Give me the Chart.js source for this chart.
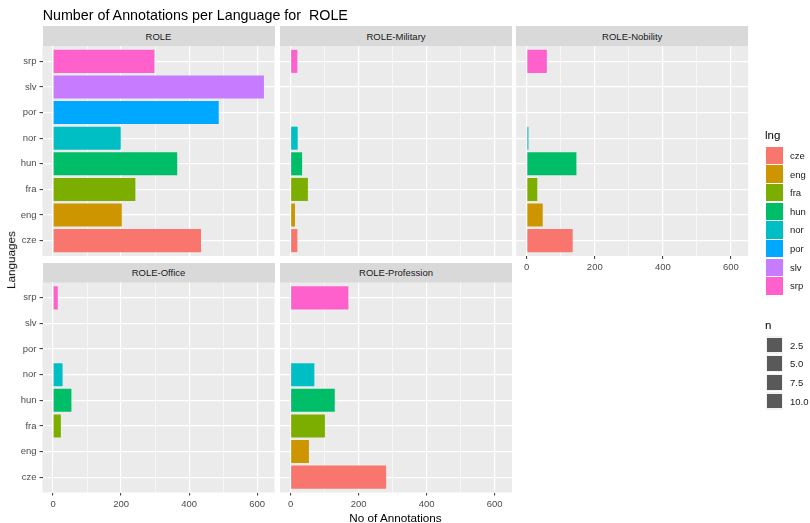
<!DOCTYPE html>
<html>
<head>
<meta charset="utf-8">
<title>Number of Annotations per Language for ROLE</title>
<script src="https://cdn.jsdelivr.net/npm/chart.js@4.4.1/dist/chart.umd.min.js"></script>
<style>
  html, body { margin: 0; padding: 0; background: #ffffff; }
  #stage { position: relative; width: 810px; height: 523px; overflow: hidden;
           font-family: "Liberation Sans", Arial, sans-serif; }
  #stage canvas { position: absolute; left: 0; top: 0; }
  .txt { position: absolute; white-space: nowrap; line-height: 1; color: #000; }
  .strip { position: absolute; background: #D9D9D9; color: #1A1A1A; font-size: 9.5px;
           display: flex; align-items: center; justify-content: center; }
  .key { position: absolute; }
  .keylab { position: absolute; font-size: 9.5px; color: #1A1A1A; height: 17px;
            display: flex; align-items: center; white-space: nowrap; }
</style>
</head>
<body>
<div id="stage"></div>
<script>
// ---- data -------------------------------------------------------------
const languages = ['cze', 'eng', 'fra', 'hun', 'nor', 'por', 'slv', 'srp'];
const langColors = ['#F8766D', '#CD9600', '#7CAE00', '#00BE67', '#00BFC4', '#00A9FF', '#C77CFF', '#FF61CC'];

const facetNames = ['ROLE', 'ROLE-Military', 'ROLE-Nobility', 'ROLE-Office', 'ROLE-Profession'];

// annotation counts per language (order of `languages`); null = no annotations
const roleCounts       = [435, 202, 242, 365, 199, 487, 620, 298];
const militaryCounts   = [20, 13, 51, 34, 21, null, null, 20];
const nobilityCounts   = [135, 47, 31, 146, 5, null, null, 59];
const officeCounts     = [2, null, 23, 54, 28, null, null, 14];
const professionCounts = [281, 54, 101, 130, 70, null, null, 170];

const xTickLabels = [0, 200, 400, 600];   // labelled (major) breaks
const xMinorBreaks = [100, 300, 500];     // unlabelled minor grid lines
const sizeLegendValues = ['2.5', '5.0', '7.5', '10.0'];

// ---- layout -----------------------------------------------------------
const W = 810, H = 523;
const FONT = '"Liberation Sans", Arial, sans-serif';
const xMin = -31, xMax = 651;            // shared x limits (fixed scales)
const yMin = 0.4, yMax = 8.6;            // discrete axis with 0.6 expansion
const colLeft = [42.5, 280, 516.2];
const panelWidth = 232;
const rows = [
  { stripTop: 26,    top: 46,    bottom: 256 },
  { stripTop: 262.5, top: 282.5, bottom: 492.5 }
];

const panels = [
  { name: facetNames[0], counts: roleCounts,       col: 0, row: 0, showX: false },
  { name: facetNames[1], counts: militaryCounts,   col: 1, row: 0, showX: false },
  { name: facetNames[2], counts: nobilityCounts,   col: 2, row: 0, showX: true  },
  { name: facetNames[3], counts: officeCounts,     col: 0, row: 1, showX: true  },
  { name: facetNames[4], counts: professionCounts, col: 1, row: 1, showX: true  }
];

const stage = document.getElementById('stage');

// grey panel background behind the grid
const panelBackground = {
  id: 'panelBackground',
  beforeDraw(chart) {
    const a = chart.chartArea, ctx = chart.ctx;
    ctx.save();
    ctx.fillStyle = '#EBEBEB';
    ctx.fillRect(a.left, a.top, a.right - a.left, a.bottom - a.top);
    ctx.restore();
  }
};

function addText(text, left, top, size, extra) {
  const d = document.createElement('div');
  d.className = 'txt';
  d.textContent = text;
  d.style.left = left + 'px';
  d.style.top = top + 'px';
  d.style.fontSize = size + 'px';
  if (extra) Object.assign(d.style, extra);
  stage.appendChild(d);
  return d;
}

function zeroPadding(s) {
  s.paddingLeft = 0; s.paddingRight = 0; s.paddingTop = 0; s.paddingBottom = 0;
}

function makePanel(p) {
  const L = colLeft[p.col], R = L + panelWidth;
  const T = rows[p.row].top, B = rows[p.row].bottom;
  const showY = p.col === 0;
  const yW = showY ? L : 0;
  const xH = p.showX ? 26 : 0;

  // facet strip
  const s = document.createElement('div');
  s.className = 'strip';
  s.textContent = p.name;
  s.style.left = L + 'px';
  s.style.top = rows[p.row].stripTop + 'px';
  s.style.width = panelWidth + 'px';
  s.style.height = (T - rows[p.row].stripTop) + 'px';
  stage.appendChild(s);

  const canvas = document.createElement('canvas');
  canvas.width = W; canvas.height = H;
  stage.appendChild(canvas);

  const points = [];
  p.counts.forEach((v, i) => { if (v !== null) points.push({ x: v, y: i + 1 }); });

  const isMajor = c => c.tick && xTickLabels.includes(c.tick.value);

  new Chart(canvas, {
    type: 'bar',
    data: {
      datasets: [{
        data: points,
        backgroundColor: points.map(pt => langColors[pt.y - 1]),
        borderWidth: 0,
        barPercentage: 0.9,
        categoryPercentage: 1.0
      }]
    },
    options: {
      responsive: false,
      animation: false,
      devicePixelRatio: 1,
      indexAxis: 'y',
      layout: { padding: { left: L - yW, right: W - R, top: T, bottom: H - B - xH } },
      plugins: { legend: { display: false }, tooltip: { enabled: false }, title: { display: false } },
      scales: {
        x: {
          type: 'linear', position: 'bottom', min: xMin, max: xMax, offset: false,
          afterBuildTicks: sc => {
            sc.ticks = xTickLabels.concat(xMinorBreaks).sort((a, b) => a - b).map(v => ({ value: v }));
          },
          afterFit: sc => { sc.height = xH; zeroPadding(sc); },
          border: { display: false },
          grid: {
            offset: false,
            color: '#FFFFFF',
            lineWidth: c => isMajor(c) ? 1.2 : 0.6,
            drawTicks: p.showX,
            tickLength: 3,
            tickWidth: 1,
            tickColor: c => isMajor(c) ? '#333333' : 'rgba(0,0,0,0)'
          },
          ticks: {
            display: p.showX, autoSkip: false, maxRotation: 0, minRotation: 0,
            padding: 3, color: '#4D4D4D', font: { family: FONT, size: 9.5 },
            callback: v => xTickLabels.includes(v) ? String(v) : ''
          }
        },
        y: {
          type: 'linear', position: 'left', min: yMin, max: yMax, offset: false,
          afterBuildTicks: sc => { sc.ticks = languages.map((l, i) => ({ value: i + 1 })); },
          afterFit: sc => { sc.width = yW; zeroPadding(sc); },
          border: { display: false },
          grid: {
            offset: false,
            color: '#FFFFFF', lineWidth: 1.2,
            drawTicks: showY, tickLength: 3, tickWidth: 1, tickColor: '#333333'
          },
          ticks: {
            display: showY, autoSkip: false, padding: 3, color: '#4D4D4D',
            font: { family: FONT, size: 9.5 },
            callback: v => languages[v - 1] || ''
          }
        }
      }
    },
    plugins: [panelBackground]
  });
}

panels.forEach(makePanel);

// ---- titles -------------------------------------------------------------
addText('Number of Annotations per Language for\u00a0 ROLE', 42.7, 8.4, 14.3);
addText('No of Annotations', 395.5, 511.6, 11.7, { transform: 'translateX(-50%)' });
addText('Languages', 11, 259.5, 11.7, { transform: 'translate(-50%, -50%) rotate(-90deg)' });

// ---- fill legend (lng) ---------------------------------------------------
addText('lng', 765, 130.4, 11.5);
const keyPitch = 18.66, keySize = 17.3;
languages.forEach((l, i) => {
  const top = 146.7 + i * keyPitch;
  const k = document.createElement('div');
  k.className = 'key';
  Object.assign(k.style, { left: '765.5px', top: top + 'px', width: keySize + 'px', height: keySize + 'px', background: langColors[i] });
  stage.appendChild(k);
  const t = document.createElement('div');
  t.className = 'keylab';
  t.textContent = l;
  Object.assign(t.style, { left: '790px', top: top + 'px', height: keySize + 'px' });
  stage.appendChild(t);
});

// ---- size legend (n) -----------------------------------------------------
addText('n', 765, 320.1, 11.5);
sizeLegendValues.forEach((v, i) => {
  const top = 336.4 + i * keyPitch;
  const k = document.createElement('div');
  k.className = 'key';
  Object.assign(k.style, { left: '765.5px', top: top + 'px', width: keySize + 'px', height: keySize + 'px', background: '#F2F2F2' });
  const inner = document.createElement('div');
  Object.assign(inner.style, { position: 'absolute', left: '1.3px', top: '1.3px', right: '1.3px', bottom: '1.3px', background: '#595959' });
  k.appendChild(inner);
  stage.appendChild(k);
  const t = document.createElement('div');
  t.className = 'keylab';
  t.textContent = v;
  Object.assign(t.style, { left: '790px', top: top + 'px', height: keySize + 'px' });
  stage.appendChild(t);
});
</script>
</body>
</html>
